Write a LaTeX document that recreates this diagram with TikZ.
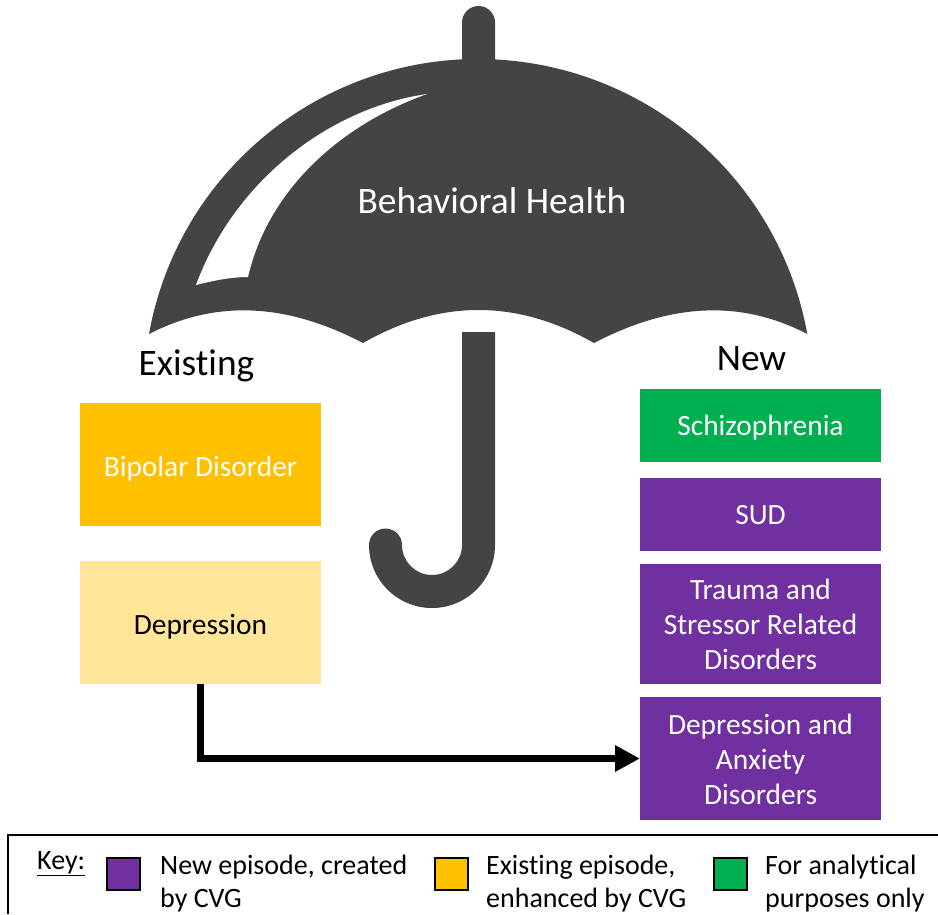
\documentclass[tikz,border=0pt]{standalone}
\usepackage{fontspec}
\setmainfont[Ligatures=NoCommon]{Carlito}
\usetikzlibrary{arrows.meta}
\definecolor{dk}{HTML}{444444}
\definecolor{gold}{HTML}{FFC000}
\definecolor{pale}{HTML}{FFE699}
\definecolor{purp}{HTML}{7030A0}
\definecolor{grn}{HTML}{00B050}
\tikzset{
  box/.style={minimum width=241pt,inner sep=0pt,outer sep=0pt,align=center,font=\fontsize{29.4}{35}\selectfont,text=white,anchor=north west,text depth=0pt},
  swatch/.style={draw=black,line width=2.4pt,minimum width=33pt,minimum height=32pt,inner sep=0pt,anchor=north west},
  keytext/.style={anchor=north west,inner sep=0pt,align=left,font=\fontsize{28}{33}\selectfont,text=black},
  head/.style={inner sep=0pt,font=\fontsize{37.4}{44}\selectfont,text=black}
}
\begin{document}
\begin{tikzpicture}[x=1pt,y=-1pt]
\useasboundingbox (0,0) rectangle (938,914);
\fill[white] (0,0) rectangle (938,914);
% canopy
\fill[dk] (462,70) -- (462,22.5) arc[start angle=180,end angle=360,radius=16.5] -- (495,70) -- cycle;
\fill[dk] (149,334) arc[start angle=190.25,end angle=349.75,radius=334.5]
  .. controls (736,297) and (665,306) .. (594,343)
  .. controls (517,299) and (440,299) .. (363,343)
  .. controls (292,306) and (221,297) .. (149,334) -- cycle;
% highlight
\fill[white] (427,94) .. controls (330,108) and (235,180) .. (196,285)
  .. controls (212,281) and (230,277) .. (248,277)
  .. controls (268,190) and (340,125) .. (427,94) -- cycle;
% handle
\fill[dk] (462,332) -- (495,332) -- (495,545) arc[start angle=0,end angle=180,radius=63]
  arc[start angle=180,end angle=360,radius=16.5]
  arc[start angle=180,end angle=0,radius=30] -- cycle;
\node[inner sep=0pt,text=white,font=\fontsize{37.4}{44}\selectfont] (title) at (492,200.5) {Behavioral Health};
\node[head] (existing) at (196.5,366) {Existing};
\node[head] (new) at (751.5,359) {New};
% boxes
\node[box,text height=24pt,fill=gold,minimum height=123pt] (bipolar) at (80,403) {Bipolar Disorder};
\node[box,text height=24pt,fill=pale,minimum height=123pt,text=black] (dep) at (80,561) {Depression};
\node[box,fill=grn,minimum height=73pt] (schizo) at (640,389) {Schizophrenia};
\node[box,fill=purp,minimum height=73pt] (sud) at (640,478) {SUD};
\node[box,fill=purp,minimum height=120pt] (trauma) at (640,564) {Trauma and\\Stressor Related\\Disorders};
\node[box,fill=purp,minimum height=123pt,text height=92pt] (depanx) at (640,697) {Depression and\\Anxiety\\Disorders};
\draw[line width=7pt,-{Triangle[length=25pt,width=25pt]}] (dep.south) |- (depanx.west);
% key
\draw[line width=2.4pt] (938,835) -- (8,835) -- (8,914);
\node[keytext] (key) at (37,851) {\underline{Key:}};
\node[swatch,fill=purp] (s1) at (105.8,856.5) {};
\node[keytext] (t1) at (160,855) {New episode, created\\by CVG};
\node[swatch,fill=gold] (s2) at (433.5,856.5) {};
\node[keytext] (t2) at (486,855) {Existing episode,\\enhanced by CVG};
\node[swatch,fill=grn] (s3) at (713,856.5) {};
\node[keytext] (t3) at (765,855) {For analytical\\purposes only};
\end{tikzpicture}
\end{document}
